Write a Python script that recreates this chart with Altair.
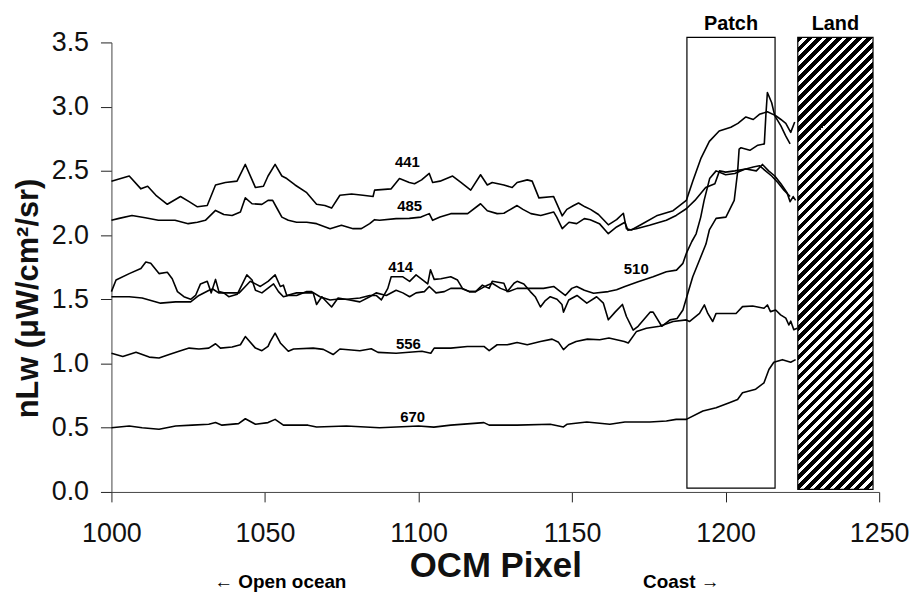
import altair as alt
import pandas as pd

# ---- data (OCM pixel, nLw) ----
S441 = [(1000,2.42),(1005.8,2.46),(1009.6,2.36),(1011.8,2.38),(1014.5,2.31),(1018.2,2.24),(1022.5,2.30),(1025.3,2.26),(1028,2.22),(1031.2,2.23),(1033.9,2.39),(1037.1,2.41),(1040.9,2.42),(1043.6,2.55),(1046.9,2.37),(1049.5,2.38),(1051,2.46),(1053.3,2.55),(1055.5,2.46),(1057.1,2.44),(1059.8,2.39),(1063.6,2.33),(1066.8,2.24),(1069.5,2.23),(1071.7,2.21),(1074.4,2.31),(1078.2,2.32),(1081.9,2.31),(1085.2,2.30),(1085.7,2.35),(1091.1,2.36),(1093.8,2.44),(1097,2.41),(1098.7,2.40),(1101,2.43),(1103.5,2.48),(1104.6,2.41),(1107,2.42),(1111.1,2.46),(1113.8,2.41),(1117,2.35),(1120.2,2.47),(1122.4,2.39),(1124,2.41),(1127.8,2.39),(1130.5,2.37),(1132.1,2.41),(1135.4,2.43),(1137,2.42),(1139.2,2.29),(1144,2.30),(1146.8,2.15),(1148.3,2.20),(1150.5,2.23),(1152.1,2.25),(1154.2,2.22),(1156,2.20),(1158.6,2.16),(1161.8,2.08),(1164.5,2.12),(1166.7,2.17),(1167.7,2.05),(1169.3,2.04),(1173.1,2.09),(1177.5,2.15),(1182.9,2.19),(1187.2,2.27),(1189.3,2.42),(1192,2.60),(1194.7,2.73),(1197.9,2.81),(1201.7,2.84),(1204,2.87),(1206.6,2.92),(1209,2.90),(1211,2.94),(1213.6,2.96),(1216.3,2.93),(1218,2.90),(1219.6,2.87),(1221.2,2.80),(1222.5,2.88)]

S485 = [(1000,2.115),(1002.5,2.13),(1006.7,2.153),(1011,2.135),(1015.3,2.115),(1020.7,2.115),(1025,2.089),(1028,2.10),(1030.6,2.115),(1033.9,2.192),(1036.6,2.16),(1039.3,2.153),(1042,2.179),(1043.6,2.29),(1045.8,2.244),(1049,2.239),(1051,2.27),(1052.5,2.27),(1054,2.205),(1055.5,2.14),(1057.6,2.115),(1060.3,2.10),(1063.6,2.10),(1066.8,2.089),(1071.2,2.05),(1074.9,2.076),(1078.7,2.05),(1081.4,2.05),(1084.1,2.089),(1085.7,2.12),(1087.3,2.115),(1092.7,2.128),(1097,2.13),(1100.8,2.14),(1103.5,2.167),(1104.6,2.115),(1107,2.14),(1110.5,2.167),(1116,2.167),(1120.2,2.244),(1122.4,2.19),(1125.6,2.167),(1127.8,2.17),(1132.1,2.23),(1134,2.20),(1136.6,2.167),(1139.8,2.153),(1144,2.18),(1145,2.14),(1146.8,2.05),(1149,2.10),(1151.5,2.089),(1154,2.128),(1155.9,2.12),(1158.9,2.089),(1161.8,2.011),(1164.5,2.063),(1167.2,2.10),(1168.2,2.037),(1170.9,2.05),(1175.2,2.076),(1180.7,2.115),(1183.9,2.153),(1187.2,2.205),(1190,2.27),(1193.5,2.37),(1196.5,2.40),(1198,2.50),(1200,2.49),(1203,2.50),(1206.6,2.515),(1210,2.50),(1212,2.55),(1214,2.50),(1216,2.46),(1218,2.40),(1220,2.33),(1221,2.26),(1222,2.30),(1222.8,2.27)]

S414 = [(1000,1.56),(1001.5,1.65),(1005.8,1.70),(1009.6,1.74),(1011.2,1.79),(1012.8,1.78),(1015.5,1.70),(1018.2,1.71),(1019.8,1.66),(1021.5,1.56),(1023.6,1.52),(1025.8,1.50),(1027.4,1.53),(1029,1.62),(1031.2,1.64),(1032.5,1.55),(1033.9,1.655),(1035,1.56),(1036.6,1.55),(1038.2,1.52),(1041,1.54),(1044.1,1.69),(1045.8,1.65),(1046.9,1.57),(1049,1.55),(1052.8,1.62),(1054.4,1.56),(1056,1.52),(1057.6,1.53),(1060.3,1.53),(1063.6,1.56),(1065.2,1.56),(1067.9,1.52),(1071.2,1.495),(1073.3,1.50),(1076.7,1.50),(1080.9,1.51),(1084.1,1.53),(1086.2,1.53),(1087.9,1.495),(1090,1.585),(1091.1,1.675),(1094.9,1.675),(1097.1,1.64),(1099.2,1.69),(1103,1.62),(1103.9,1.73),(1105.1,1.655),(1107.3,1.66),(1110.5,1.675),(1112.7,1.65),(1114.3,1.585),(1116.5,1.56),(1118.6,1.56),(1120.8,1.61),(1123,1.585),(1124,1.64),(1127.8,1.625),(1128.9,1.56),(1131.1,1.625),(1132.1,1.64),(1134.3,1.62),(1136.4,1.56),(1138,1.52),(1139.7,1.44),(1141.3,1.49),(1142.9,1.52),(1145.1,1.50),(1146.7,1.46),(1147.2,1.40),(1148.9,1.495),(1151.6,1.53),(1154.8,1.47),(1158,1.52),(1160.2,1.47),(1161.8,1.34),(1164,1.40),(1166.4,1.46),(1167.7,1.366),(1169.9,1.26),(1171.5,1.29),(1175.4,1.40),(1176.4,1.40),(1179.2,1.29),(1181.9,1.34),(1184.2,1.35),(1186.1,1.417),(1187.7,1.547),(1189.3,1.675),(1191.4,1.80),(1193.6,1.93),(1194.7,2.04),(1196.9,2.13),(1200.1,2.14),(1202.8,2.27),(1203.4,2.39),(1203.9,2.49),(1204.4,2.67),(1205,2.68),(1207.9,2.66),(1210.5,2.70),(1212.6,2.71),(1213.1,2.93),(1213.6,3.11),(1215,3.03),(1216,2.93),(1218,2.85),(1219.6,2.77),(1221,2.71)]

S510 = [(1000,1.52),(1005.8,1.52),(1010,1.51),(1016,1.47),(1020.9,1.48),(1025.8,1.48),(1028.5,1.53),(1031.8,1.57),(1033,1.58),(1034.9,1.55),(1040,1.55),(1041.6,1.55),(1043.6,1.60),(1045.2,1.64),(1046.9,1.62),(1048.5,1.60),(1051,1.64),(1053.3,1.69),(1055,1.60),(1056,1.61),(1057.1,1.53),(1060.3,1.55),(1063.6,1.55),(1065.7,1.55),(1066.8,1.46),(1068.5,1.52),(1069.5,1.495),(1071.7,1.44),(1073.8,1.51),(1077.6,1.495),(1080.9,1.48),(1084.1,1.52),(1086.2,1.55),(1089.5,1.53),(1092.7,1.57),(1094.9,1.55),(1097.1,1.52),(1099.2,1.55),(1101.9,1.56),(1103.5,1.60),(1105.7,1.55),(1108.4,1.56),(1110.5,1.585),(1113.8,1.585),(1116.5,1.56),(1118.6,1.56),(1122.4,1.61),(1124,1.625),(1126.7,1.585),(1129.4,1.56),(1132.1,1.585),(1136.4,1.585),(1140.7,1.585),(1144,1.60),(1146.2,1.56),(1147.8,1.53),(1149.9,1.585),(1151.5,1.60),(1154,1.57),(1157,1.547),(1161.8,1.56),(1164.5,1.575),(1167.2,1.60),(1171.5,1.637),(1176.4,1.675),(1180.7,1.714),(1184,1.727),(1186.1,1.78),(1187.2,1.857),(1189,1.95),(1190.4,2.01),(1191.9,2.14),(1193,2.27),(1194.8,2.44),(1196.9,2.50),(1200,2.47),(1203,2.48),(1206,2.51),(1209,2.53),(1211,2.54),(1213,2.50),(1215,2.46),(1217,2.41),(1219,2.35),(1221,2.30)]

S556 = [(1000,1.08),(1003.7,1.055),(1008,1.087),(1012.3,1.05),(1015.5,1.043),(1018.8,1.07),(1022,1.095),(1025.3,1.12),(1028.5,1.113),(1031.7,1.12),(1033.9,1.154),(1035.5,1.12),(1039.3,1.128),(1042,1.146),(1043.6,1.21),(1046.9,1.12),(1049,1.10),(1051,1.133),(1051.7,1.17),(1053.3,1.237),(1055,1.16),(1057.6,1.095),(1059.3,1.113),(1065.7,1.12),(1069,1.11),(1072.2,1.07),(1074.4,1.113),(1080.9,1.10),(1084.6,1.115),(1086.8,1.087),(1092.7,1.08),(1101.1,1.095),(1104,1.08),(1105.1,1.12),(1110.5,1.12),(1115.9,1.133),(1121.3,1.133),(1123,1.10),(1125.6,1.146),(1128.9,1.146),(1132.1,1.164),(1135.4,1.146),(1139.7,1.172),(1143.5,1.19),(1145.6,1.165),(1147.2,1.108),(1148.9,1.146),(1151.3,1.172),(1155,1.19),(1159,1.185),(1162,1.198),(1167,1.172),(1168.3,1.16),(1171,1.25),(1174.2,1.275),(1178.5,1.29),(1182.9,1.327),(1187.2,1.34),(1188.2,1.327),(1191.5,1.39),(1193.1,1.456),(1194.2,1.39),(1195.8,1.327),(1196.9,1.39),(1203.4,1.39),(1205.5,1.443),(1208.8,1.448),(1212.5,1.43),(1213.6,1.456),(1214.6,1.404),(1216.3,1.417),(1217.9,1.379),(1219.6,1.353),(1220.6,1.30),(1221.2,1.33),(1222.2,1.263),(1223.3,1.275)]

S670 = [(1000,0.50),(1005.8,0.514),(1010,0.50),(1015.5,0.488),(1020.9,0.514),(1026.3,0.52),(1031.7,0.527),(1033.9,0.54),(1036,0.52),(1041.4,0.532),(1043.6,0.57),(1046.9,0.527),(1051,0.54),(1053.3,0.565),(1056,0.52),(1064,0.52),(1066.8,0.506),(1076.5,0.514),(1087.3,0.50),(1100,0.514),(1105,0.505),(1110.5,0.52),(1121.3,0.54),(1123,0.52),(1132.1,0.52),(1142.9,0.527),(1147.2,0.506),(1148.3,0.527),(1154.8,0.545),(1162.3,0.527),(1167.2,0.545),(1175.3,0.545),(1180.7,0.552),(1183.9,0.565),(1187.2,0.565),(1192.6,0.63),(1196.9,0.656),(1201.2,0.695),(1203.9,0.72),(1205.5,0.772),(1209.8,0.80),(1212.5,0.85),(1214.1,0.953),(1215.7,1.01),(1218.5,1.03),(1221.2,1.01),(1222.8,1.03)]

SERIES = {"441": S441, "485": S485, "414": S414, "510": S510, "556": S556, "670": S670}

# series labels (band, x, y)
LABEL_BANDS = ["441", "485", "414", "510", "556", "670"]
LABEL_X = [1096.4, 1097.1, 1094.2, 1170.9, 1096.7, 1098.1]
LABEL_Y = [2.569, 2.225, 1.749, 1.734, 1.149, 0.585]

# regions
REGION_NAMES = ["Patch", "Land"]
REGION_X = [1187.4, 1223.5]
REGION_X2 = [1216.1, 1248.0]
REGION_Y = [0.03, 0.02]
REGION_Y2 = [3.54, 3.54]

# direction notes under the axis
NOTE_TEXT = ["\u2190 Open ocean", "Coast \u2192"]
NOTE_X = [1055.0, 1185.6]
NOTE_Y = [-0.745, -0.745]

X_TICKS = [1000, 1050, 1100, 1150, 1200, 1250]
Y_TICKS = [0.0, 0.5, 1.0, 1.5, 2.0, 2.5, 3.0, 3.5]

FONT = "Liberation Sans"

rows = []
for band, pts in SERIES.items():
    for i, (xv, yv) in enumerate(pts):
        rows.append({"band": band, "x": xv, "y": yv, "i": i})
lines_df = pd.DataFrame(rows)

labels_df = pd.DataFrame({"band": LABEL_BANDS, "x": LABEL_X, "y": LABEL_Y})
regions_df = pd.DataFrame({"name": REGION_NAMES, "x": REGION_X, "x2": REGION_X2,
                           "y": REGION_Y, "y2": REGION_Y2})
notes_df = pd.DataFrame({"t": NOTE_TEXT, "x": NOTE_X, "y": NOTE_Y})

xscale = alt.Scale(domain=[1000, 1250], nice=False, zero=False)
yscale = alt.Scale(domain=[0, 3.5], nice=False)

xaxis = alt.Axis(values=X_TICKS, format="d", title="OCM Pixel", grid=False,
                 labelFontSize=27, labelFont=FONT, labelColor="#111", labelFlush=False,
                 tickSize=10, labelPadding=19, tickColor="#222", domainColor="#444",
                 titleFontSize=35, titleFont=FONT, titleFontWeight="bold", titleColor="#111",
                 titleBaseline="alphabetic", titleY=85)
yaxis = alt.Axis(values=Y_TICKS, format=".1f", title="nLw (\u03bcW/cm\u00b2/sr)", grid=False,
                 labelFontSize=27, labelFont=FONT, labelColor="#111", labelFlush=False,
                 tickSize=11, labelPadding=12, tickColor="#222", domainColor="#444",
                 titleFontSize=31, titleFont=FONT, titleFontWeight="bold", titleColor="#111",
                 titleX=-67, titleY=257, titleBaseline="bottom")

base_x = alt.X("x:Q", scale=xscale, axis=xaxis)
base_y = alt.Y("y:Q", scale=yscale, axis=yaxis)

lines = alt.Chart(lines_df).mark_line(color="black", strokeWidth=1.6, strokeJoin="round").encode(
    x=base_x, y=base_y, detail="band:N", order="i:Q")

# land hatching: striped gradient
W = (REGION_X2[1] - REGION_X[1]) * 772 / 250
H = (REGION_Y2[1] - REGION_Y[1]) * 452 / 3.5
k = (W + H) / (W * W + H * H)
n = 53
stops = []
for j in range(n):
    a = j / n
    b = (j + 0.55) / n
    c = (j + 1) / n
    stops += [{"offset": a, "color": "black"}, {"offset": b, "color": "black"},
              {"offset": b, "color": "white"}, {"offset": c, "color": "white"}]
hatch = alt.Gradient(gradient="linear", x1=0, y1=0, x2=W * k, y2=H * k, stops=stops)

land = alt.Chart(regions_df).transform_filter(alt.datum.name == "Land").mark_rect(
    fill=hatch, stroke="black", strokeWidth=1.2).encode(
    x="x:Q", x2="x2:Q", y="y:Q", y2="y2:Q")

patch = alt.Chart(regions_df).transform_filter(alt.datum.name == "Patch").mark_rect(
    fill="transparent", stroke="black", strokeWidth=1.2).encode(
    x="x:Q", x2="x2:Q", y="y:Q", y2="y2:Q")

region_text = alt.Chart(regions_df).transform_calculate(
    cx="(datum.x + datum.x2) / 2", ty="3.6").mark_text(
    font=FONT, fontSize=20, fontWeight="bold", baseline="alphabetic", color="black").encode(
    x="cx:Q", y="ty:Q", text="name:N")

label_text = alt.Chart(labels_df).mark_text(
    font=FONT, fontSize=15, fontWeight="bold", baseline="middle", color="black").encode(
    x="x:Q", y="y:Q", text="band:N")

note_text = alt.Chart(notes_df).mark_text(
    font=FONT, fontSize=19, fontWeight="bold", baseline="alphabetic", color="black").encode(
    x="x:Q", y="y:Q", text="t:N")

chart = alt.layer(patch, land, lines, label_text, region_text, note_text).properties(
    width=772, height=452,
    padding={"left": 104, "top": 33, "right": 30, "bottom": 102},
    autosize=alt.AutoSizeParams(type="none"),
    background="white",
).configure_view(stroke="transparent")

chart.save("out.html", embed_options={"renderer": "svg", "actions": False})
